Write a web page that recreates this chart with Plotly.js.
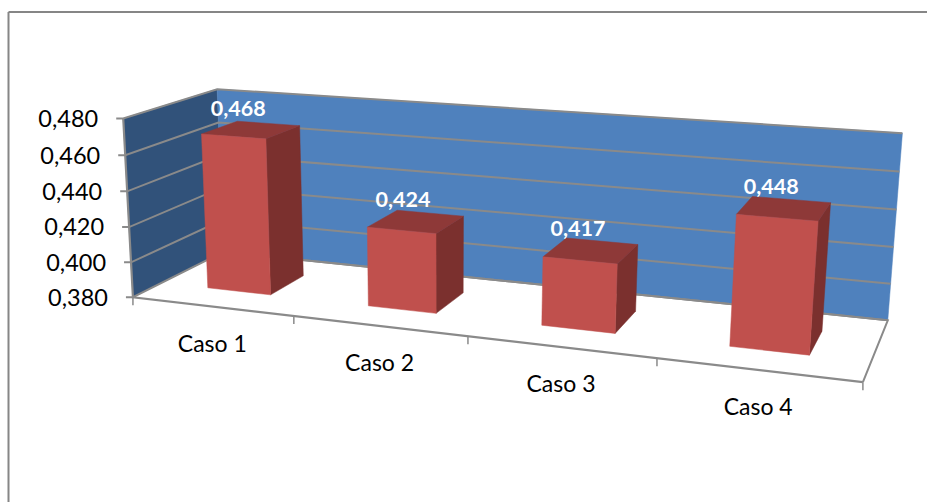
<!DOCTYPE html>
<html><head><meta charset="utf-8">
<script src="https://cdn.plot.ly/plotly-3.0.1.min.js"></script>
<style>html,body{margin:0;padding:0;background:#fff}#c{width:927px;height:502px}</style>
</head><body><div id="c"></div>
<script>
const categories = ["Caso 1","Caso 2","Caso 3","Caso 4"];
const values = [0.468,0.424,0.417,0.448];
const valueLabels = ["0,468","0,424","0,417","0,448"];
const yTicks = [0.38,0.40,0.42,0.44,0.46,0.48];
const yTickLabels = ["0,380","0,400","0,420","0,440","0,460","0,480"];
const zmin=0.38, zmax=0.48, n=categories.length;
const col={bar:"#c0504d",barSide:"#7b302e",barTop:"#8e3938",wall:"#4f81bd",wallSide:"#31527a",line:"#8a8a8a"};

// camera calibration: unit-cube (u across, v depth, w up) -> canvas position
const cal=[
 [0,0,0,135,296],[0,1,0,221,253],[1,1,0,888,320],[1,0,0,863,382],
 [0,0,1,122,119],[0,1,1,218,89],[1,1,1,902,133],
 [0,0,1,122,119],[0,1,1,218,89],[0,1,1,218,89],
 [.25,0,0,294,315],[.5,0,0,468,337],[.75,0,0,657,359]];
function solve(A,b){const m=b.length;const M=A.map((r,i)=>[...r,b[i]]);
 for(let c=0;c<m;c++){let p=c;for(let r=c+1;r<m;r++)if(Math.abs(M[r][c])>Math.abs(M[p][c]))p=r;
  [M[c],M[p]]=[M[p],M[c]];
  for(let r=0;r<m;r++)if(r!==c){const f=M[r][c]/M[c][c];for(let k=c;k<=m;k++)M[r][k]-=f*M[c][k];}}
 return M.map((r,i)=>r[m]/r[i]);}
const rows=[],rhs=[];
cal.forEach(([u,v,w,x,y])=>{
 rows.push([u,v,w,1,0,0,0,0,-u*x,-v*x,-w*x]);rhs.push(x);
 rows.push([0,0,0,0,u,v,w,1,-u*y,-v*y,-w*y]);rhs.push(y);});
const N=11,AtA=Array.from({length:N},(_,a)=>Array.from({length:N},(_,b)=>rows.reduce((s,r)=>s+r[a]*r[b],0)));
const Atb=Array.from({length:N},(_,a)=>rows.reduce((s,r,i)=>s+r[a]*rhs[i],0));
const h=solve(AtA,Atb);
function P(u,v,w){const d=h[8]*u+h[9]*v+h[10]*w+1;return [(h[0]*u+h[1]*v+h[2]*w+h[3])/d,(h[4]*u+h[5]*v+h[6]*w+h[7])/d];}
const W=t=>(t-zmin)/(zmax-zmin);

const traces=[];
function poly(pts,color){const p=[...pts,pts[0]];traces.push({type:'scatter',mode:'lines',x:p.map(a=>a[0]),y:p.map(a=>a[1]),fill:'toself',fillcolor:color,line:{width:0.5,color:color},hoverinfo:'skip'});}
function line(pts,color,width){traces.push({type:'scatter',mode:'lines',x:pts.map(a=>a[0]),y:pts.map(a=>a[1]),line:{color:color,width:width},hoverinfo:'skip'});}
function text(pts,labels,font,pos){traces.push({type:'scatter',mode:'text',x:pts.map(a=>a[0]),y:pts.map(a=>a[1]),text:labels,textposition:pos||'middle center',textfont:font,cliponaxis:false,hoverinfo:'skip'});}

// walls
poly([P(0,0,0),P(0,1,0),P(0,1,1),P(0,0,1)],col.wallSide);
poly([P(0,1,0),P(1,1,0),P(1,1,1),P(0,1,1)],col.wall);
// gridlines + value axis ticks
yTicks.forEach(t=>{const w=W(t);
 const a=P(0,0,w);
 line([[a[0]-7,a[1]],a,P(0,1,w),P(1,1,w)],col.line,2);});
// floor edges + category ticks
line([P(0,1,0),P(1,1,0),P(1,0,0)],col.line,2);
line([P(0,0,1),P(0,0,0),P(1,0,0)],col.line,2.2);
for(let i=0;i<=n;i++){const a=P(i/n,0,0);line([a,[a[0],a[1]+8]],col.line,1.5);}
// bars
const DF=0.3,DB=0.7,GAP=0.3;
values.forEach((val,i)=>{
 const u0=(i+GAP)/n,u1=(i+1-GAP)/n,w=W(val);
 poly([P(u1,DF,0),P(u1,DB,0),P(u1,DB,w),P(u1,DF,w)],col.barSide);
 poly([P(u0,DF,w),P(u1,DF,w),P(u1,DB,w),P(u0,DB,w)],col.barTop);
 poly([P(u0,DF,0),P(u1,DF,0),P(u1,DF,w),P(u0,DF,w)],col.bar);
});
// labels
text(yTicks.map(t=>{const a=P(0,0,W(t));return [a[0]-25,a[1]+2.5];}),yTickLabels,{family:'Lato',size:23.5,color:'#000'},'middle left');
text(categories.map((c,i)=>{const a=P((i+.5)/n,0,0);return [a[0]+0.5,a[1]+39.5];}),categories,{family:'Lato',size:23,color:'#000'});
text(values.map((val,i)=>{const a=P((i+.5)/n,.5,W(val));return [a[0]-13,a[1]-19.5];}),valueLabels,{family:'Lato',size:21.5,color:'#fff',weight:700});

const ax={range:[0,927],visible:false,fixedrange:true};
Plotly.newPlot('c',traces,{
  width:927,height:502,showlegend:false,margin:{l:0,r:0,t:0,b:0,pad:0},paper_bgcolor:'#fff',plot_bgcolor:'#fff',
  xaxis:ax,yaxis:{range:[502,0],visible:false,fixedrange:true},
  shapes:[{type:'line',x0:8.5,x1:8.5,y0:12,y1:502,line:{color:'#868686',width:2}},{type:'line',x0:8.5,x1:927,y0:12,y1:12,line:{color:'#868686',width:2}}]
},{displayModeBar:false,staticPlot:true});
</script></body></html>
